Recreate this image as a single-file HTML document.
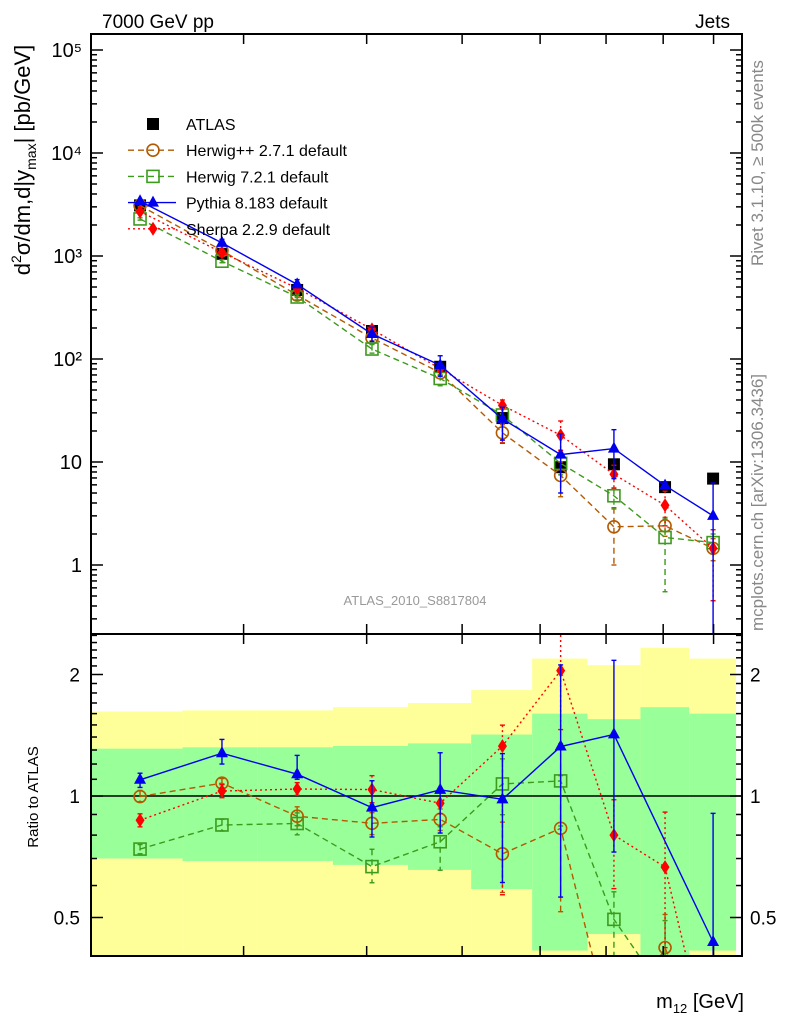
<!DOCTYPE html>
<html><head><meta charset="utf-8"><style>
html,body{margin:0;padding:0;background:#fff;overflow:hidden;width:786px;height:1024px;}
svg{display:block;font-family:"Liberation Sans",sans-serif;}
</style></head><body>
<svg id="c" width="786" height="1024" viewBox="0 0 786 1024" xmlns="http://www.w3.org/2000/svg">
<defs>
<clipPath id="cm"><rect x="91" y="34" width="651" height="600"/></clipPath>
<clipPath id="cr"><rect x="91" y="634" width="651" height="322"/></clipPath>
</defs>
<g id="bands" clip-path="url(#cr)"></g>
<g id="mainMarks" clip-path="url(#cm)"></g>
<g id="ratioMarks" clip-path="url(#cr)"></g>
<rect x="91" y="34" width="651" height="600" fill="none" stroke="#000" stroke-width="2"/>
<rect x="91" y="634" width="651" height="322" fill="none" stroke="#000" stroke-width="2"/>
<g id="axes"></g>
<text x="102" y="28" font-size="19">7000 GeV pp</text>
<text x="730" y="28" font-size="19" text-anchor="end">Jets</text>
<text transform="translate(763,266) rotate(-90)" font-size="17" fill="#888">Rivet 3.1.10, ≥ 500k events</text>
<text transform="translate(763,631) rotate(-90)" font-size="17" fill="#888">mcplots.cern.ch [arXiv:1306.3436]</text>
<text x="415" y="605" font-size="13" fill="#999" text-anchor="middle">ATLAS_2010_S8817804</text>
<text transform="translate(30,160) rotate(-90)" font-size="22" text-anchor="middle">d<tspan font-size="14" dy="-9">2</tspan><tspan dy="9">σ/dm,d|y</tspan><tspan font-size="14" dy="6">max</tspan><tspan dy="-6">| [pb/GeV]</tspan></text>
<text transform="translate(38,797) rotate(-90)" font-size="15" text-anchor="middle">Ratio to ATLAS</text>
<text x="744" y="1008" font-size="20" text-anchor="end">m<tspan font-size="13" dy="5">12</tspan><tspan dy="-5"> [GeV]</tspan></text>
<g id="legend"></g>
</svg>
<script>
const binEdges=[2100,2601,3102,3697,4406,5107,5889,6703,7586,8500,9486];
const binCenters=[2355,2852,3400,4050,4750,5494,6295,7130,8035,8990];
const atlas=[3100,1050,468,187,84,26.7,8.9,9.5,5.7,6.9];
const atlasUp=[3180,1075,480,192,87,28,9.5,10.3,6.3,7.8];
const atlasDn=[3020,1025,456,182,81,25.5,8.3,8.7,5.1,6.0];
const herwigpp=[3090,1130,417,160,73.5,19.2,7.4,2.35,2.4,1.45];
const herwigppUp=[3200,1160,440,170,78,23,10,3.6,2.9,1.8];
const herwigppDn=[3000,1100,395,150,69,15.4,4.6,1.0,1.9,1.1];
const herwig7=[2290,890,400,125,64.7,28.6,9.7,4.7,1.85,1.65];
const herwig7Up=[2350,920,425,138,70.5,33,12,5.5,2.8,2.0];
const herwig7Dn=[2230,860,375,114,55,24,7.5,3.5,0.55,1.3];
const pythia=[3400,1340,530,175,87,26.2,11.8,13.5,5.9,3.0];
const pythiaUp=[3530,1450,590,204,107.5,34,18.8,20.6,6.4,6.25];
const pythiaDn=[3255,1260,515,148,68,16.3,5.0,6.9,5.5,0.1];
const pythiaRatioShown=[1,1,1,1,1,1,1,1,0,1];
const sherpa=[2700,1080,487,194,80.6,35.5,18.2,7.6,3.8,1.45];
const sherpaUp=[2800,1120,505,210,86,40,25,9.3,5.2,2.2];
const sherpaDn=[2600,1040,470,180,76,15.2,13,5.6,2.4,0.45];
const statHi=[1.31,1.32,1.32,1.33,1.35,1.42,1.60,1.55,1.66,1.60];
const statLo=[0.70,0.69,0.69,0.675,0.656,0.588,0.414,0.455,0.40,0.414];
const totHi=[1.62,1.63,1.63,1.66,1.70,1.83,2.19,2.11,2.33,2.19];
const totLo=[0.3,0.3,0.3,0.3,0.3,0.3,0.3,0.3,0.3,0.3];
const mainTicks=[1,10,100,1000,10000,100000];
const mainTickLabels=["1","10","10²","10³","10⁴","10⁵"];
const xTicks=[3000,4000,5000,6000,7000,8000,9000];
const ratioTicks=[0.5,1,2];
const ratioTickLabels=["0.5","1","2"];

const NS="http://www.w3.org/2000/svg";
const X=m=>243.6+985*Math.log10(m/3000);
const Y=v=>565-103*Math.log10(v);
const R=r=>796-121.5*Math.log2(r);
function mk(parent,tag,attrs){const e=document.createElementNS(NS,tag);for(const k in attrs)e.setAttribute(k,attrs[k]);parent.appendChild(e);return e;}
const gB=document.getElementById('bands'),gA=document.getElementById('axes'),gM=document.getElementById('mainMarks'),gR=document.getElementById('ratioMarks'),gL=document.getElementById('legend');

for(let i=0;i<10;i++){
  const x0=X(binEdges[i]),x1=X(binEdges[i+1]);
  let r=mk(gB,'rect',{x:x0,y:R(totHi[i]),width:x1-x0,height:R(totLo[i])-R(totHi[i]),fill:'#ffff99'});
  
  
  r=mk(gB,'rect',{x:x0,y:R(statHi[i]),width:x1-x0,height:R(statLo[i])-R(statHi[i]),fill:'#99ff99'});
  
  
}
let ln=mk(gB,'line',{x1:91,x2:742,y1:R(1),y2:R(1),stroke:'#000','stroke-width':1.5});



for(let d=-1;d<=5;d++){for(let k=1;k<10;k++){const v=k*Math.pow(10,d);const y=Y(v);if(y<34||y>634)continue;const L=k===1?12:6;
  mk(gA,'line',{x1:91,x2:91+L,y1:y,y2:y,stroke:'#000','stroke-width':1.5});
  mk(gA,'line',{x1:742,x2:742-L,y1:y,y2:y,stroke:'#000','stroke-width':1.5});}}
mainTicks.forEach((v,i)=>{const t=mk(gA,'text',{x:82,y:Y(v)+7,'font-size':20,'text-anchor':'end'});t.textContent=mainTickLabels[i];
  
  });
for(let k=4;k<=25;k++){const r=k/10;const y=R(r);if(y<634||y>956)continue;const L=(k===5||k===10||k===20)?12:6;
  mk(gA,'line',{x1:91,x2:91+L,y1:y,y2:y,stroke:'#000','stroke-width':1.5});
  mk(gA,'line',{x1:742,x2:742-L,y1:y,y2:y,stroke:'#000','stroke-width':1.5});}
ratioTicks.forEach((r,i)=>{let t=mk(gA,'text',{x:80,y:R(r)+7,'font-size':19,'text-anchor':'end'});t.textContent=ratioTickLabels[i];
  
  
  t=mk(gA,'text',{x:750,y:R(r)+7,'font-size':19});t.textContent=ratioTickLabels[i];
  
  });
xTicks.forEach(m=>{const x=X(m);[[634,624],[34,44],[634,644],[956,946]].forEach(p=>mk(gA,'line',{x1:x,x2:x,y1:p[0],y2:p[1],stroke:'#000','stroke-width':1.5}));});

const series=[
 {name:'herwigpp',v:herwigpp,up:herwigppUp,dn:herwigppDn,col:'#b35a00',dash:'6,4',m:'circle'},
 {name:'herwig7',v:herwig7,up:herwig7Up,dn:herwig7Dn,col:'#3c9a1c',dash:'6,4',m:'square'},
 {name:'sherpa',v:sherpa,up:sherpaUp,dn:sherpaDn,col:'#ff0000',dash:'2,3',m:'diamond'},
 {name:'pythia',v:pythia,up:pythiaUp,dn:pythiaDn,col:'#0000ee',dash:'',m:'triangle',ratioShown:pythiaRatioShown}
];
function marker(g,type,x,y,col){
  if(type==='circle')return mk(g,'circle',{cx:x,cy:y,r:6,fill:'none',stroke:col,'stroke-width':1.6});
  if(type==='square')return mk(g,'rect',{x:x-6,y:y-6,width:12,height:12,fill:'none',stroke:col,'stroke-width':1.6});
  if(type==='diamond')return mk(g,'polygon',{points:`${x},${y-7} ${x+4.5},${y} ${x},${y+7} ${x-4.5},${y}`,fill:col});
  if(type==='triangle')return mk(g,'polygon',{points:`${x},${y-7} ${x+6},${y+4} ${x-6},${y+4}`,fill:col});
  if(type==='bsquare')return mk(g,'rect',{x:x-6,y:y-6,width:12,height:12,fill:'#000'});
}
function drawSeries(g,s,ys,panel,shown){
  const idx=s.v.map((v,i)=>i).filter(i=>!shown||shown[i]);
  const pts=idx.map(i=>[X(binCenters[i]),ys(s.v[i],i)]);
  const p=mk(g,'polyline',{points:pts.map(q=>q.join(',')).join(' '),fill:'none',stroke:s.col,'stroke-width':1.4,'stroke-dasharray':s.dash});
  
  
  idx.forEach(i=>{const v=s.v[i];const x=X(binCenters[i]);
    const e=mk(g,'line',{x1:x,x2:x,y1:ys(s.up[i],i),y2:ys(s.dn[i],i),stroke:s.col,'stroke-width':1.4,'stroke-dasharray':s.dash});
    
    
    [s.up[i],s.dn[i]].forEach(w=>mk(g,'line',{x1:x-2.5,x2:x+2.5,y1:ys(w,i),y2:ys(w,i),stroke:s.col,'stroke-width':1.4}));
    const m=marker(g,s.m,x,ys(v,i),s.col);
    
    });
}
atlas.forEach((v,i)=>{const x=X(binCenters[i]);mk(gM,'line',{x1:x,x2:x,y1:Y(atlasUp[i]),y2:Y(atlasDn[i]),stroke:'#000','stroke-width':1.4});
  const m=marker(gM,'bsquare',x,Y(v));
  
  });
series.forEach(s=>drawSeries(gM,s,v=>Y(v),'main',null));
series.forEach(s=>drawSeries(gR,s,(v,i)=>R(v/atlas[i]),'ratio',s.ratioShown||null));

const leg=[['ATLAS','#000','','bsquare',false],['Herwig++ 2.7.1 default','#b35a00','6,4','circle',true],['Herwig 7.2.1 default','#3c9a1c','6,4','square',true],['Pythia 8.183 default','#0000ee','','triangle',true],['Sherpa 2.2.9 default','#ff0000','2,3','diamond',true]];
leg.forEach((e,i)=>{const y=124+i*26.2;const g=mk(gL,'g',{});
  
  
  if(e[4])mk(g,'line',{x1:128,x2:176,y1:y,y2:y,stroke:e[1],'stroke-width':1.4,'stroke-dasharray':e[2]});
  marker(g,e[3],153,y,e[1]);
  const t=mk(g,'text',{x:186,y:y+6,'font-size':16});t.textContent=e[0];});
</script>
</body></html>
